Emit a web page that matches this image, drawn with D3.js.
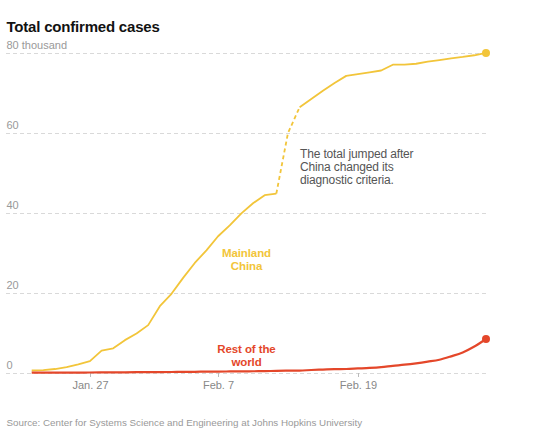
<!DOCTYPE html>
<html>
<head>
<meta charset="utf-8">
<script src="https://cdn.jsdelivr.net/npm/d3@7"></script>
<style>
  html, body { margin: 0; padding: 0; background: #fff; }
  svg { display: block; font-family: "Liberation Sans", Arial, sans-serif; }
</style>
</head>
<body>
<svg id="chart" width="545" height="441"></svg>
<script>
// ---- data ----
const dates = [
  "2020-01-22","2020-01-23","2020-01-24","2020-01-25","2020-01-26","2020-01-27","2020-01-28","2020-01-29","2020-01-30","2020-01-31",
  "2020-02-01","2020-02-02","2020-02-03","2020-02-04","2020-02-05","2020-02-06","2020-02-07","2020-02-08","2020-02-09","2020-02-10",
  "2020-02-11","2020-02-12","2020-02-13","2020-02-14","2020-02-15","2020-02-16","2020-02-17","2020-02-18","2020-02-19","2020-02-20",
  "2020-02-21","2020-02-22","2020-02-23","2020-02-24","2020-02-25","2020-02-26","2020-02-27","2020-02-28","2020-02-29","2020-03-01"
];
// thousands of cases
const chinaValues = [
  0.55, 0.64, 0.92, 1.41, 2.08, 2.88, 5.51, 6.09, 8.14, 9.80,
  11.89, 16.63, 19.72, 23.71, 27.44, 30.59, 34.11, 36.81, 39.83, 42.35,
  44.39, 44.76, 59.90, 66.36, 68.41, 70.51, 72.43, 74.21, 74.62, 75.08,
  75.55, 77.00, 77.02, 77.24, 77.75, 78.17, 78.60, 78.93, 79.36, 79.93
];
const restValues = [
  0.01, 0.01, 0.02, 0.03, 0.04, 0.05, 0.07, 0.08, 0.10, 0.12,
  0.14, 0.15, 0.17, 0.20, 0.23, 0.26, 0.29, 0.31, 0.33, 0.36,
  0.39, 0.46, 0.50, 0.53, 0.68, 0.79, 0.90, 0.93, 1.06, 1.19,
  1.39, 1.72, 2.00, 2.35, 2.77, 3.25, 4.09, 5.07, 6.54, 8.43
];
// dashed (criteria change) segment
const dashedFrom = "2020-02-12", dashedTo = "2020-02-14";
const yTicks = [0, 20, 40, 60, 80];
const yTickLabels = ["0", "20", "40", "60", "80 thousand"];
const xTicks = ["2020-01-27", "2020-02-07", "2020-02-19"];
const xTickLabels = ["Jan. 27", "Feb. 7", "Feb. 19"];

const titleText = "Total confirmed cases";
const sourceText = "Source: Center for Systems Science and Engineering at Johns Hopkins University";
const annotationLines = ["The total jumped after", "China changed its", "diagnostic criteria."];
const chinaLabel = ["Mainland", "China"];
const restLabel = ["Rest of the", "world"];

const yellow = "#f2c53a";
const red = "#e4472a";

// ---- chart ----
const parse = d3.timeParse("%Y-%m-%d");
const svg = d3.select("#chart");

const x = d3.scaleTime()
  .domain([parse(dates[0]), parse(dates[dates.length - 1])])
  .range([31.7, 486]);
const y = d3.scaleLinear().domain([0, 80]).range([372.7, 52.7]);

const gridLeft = 6, gridRight = 486;

// title
svg.append("text")
  .attr("x", 6.5).attr("y", 31.5)
  .attr("font-size", 15).attr("font-weight", "bold")
  .attr("letter-spacing", "-0.2px")
  .attr("fill", "#121212")
  .text(titleText);

// grid
const grid = svg.append("g");
grid.selectAll("line").data(yTicks).join("line")
  .attr("x1", gridLeft).attr("x2", gridRight)
  .attr("y1", d => Math.round(y(d)) + 0.5).attr("y2", d => Math.round(y(d)) + 0.5)
  .attr("stroke", "#d9d9d9").attr("stroke-width", 1)
  .attr("stroke-dasharray", "4,3");
grid.selectAll("text").data(yTicks).join("text")
  .attr("x", 6.5).attr("y", d => y(d) - 4)
  .attr("font-size", 11).attr("fill", "#999")
  .text((d, i) => yTickLabels[i]);

// x axis ticks
const xg = svg.append("g");
xTicks.forEach((t, i) => {
  const px = Math.round(x(parse(t))) + 0.5;
  xg.append("line").attr("x1", px).attr("x2", px)
    .attr("y1", 373).attr("y2", 377).attr("stroke", "#bbb");
  xg.append("text").attr("x", px).attr("y", 389)
    .attr("text-anchor", "middle").attr("font-size", 11).attr("fill", "#888")
    .text(xTickLabels[i]);
});

// china line
const china = dates.map((d, i) => ({ date: parse(d), v: chinaValues[i], i }));
const iFrom = dates.indexOf(dashedFrom), iTo = dates.indexOf(dashedTo);
const line = d3.line().x(d => x(d.date)).y(d => y(d.v));

svg.append("path").datum(china.filter(d => d.i <= iFrom))
  .attr("d", line).attr("fill", "none").attr("stroke", yellow)
  .attr("stroke-width", 1.8).attr("stroke-linejoin", "round");
svg.append("path").datum(china.filter(d => d.i >= iFrom && d.i <= iTo))
  .attr("d", line).attr("fill", "none").attr("stroke", yellow)
  .attr("stroke-width", 1.8).attr("stroke-dasharray", "4,3");
svg.append("path").datum(china.filter(d => d.i >= iTo))
  .attr("d", line).attr("fill", "none").attr("stroke", yellow)
  .attr("stroke-width", 1.8).attr("stroke-linejoin", "round");
const lastC = china[china.length - 1];
svg.append("circle").attr("cx", x(lastC.date)).attr("cy", y(lastC.v))
  .attr("r", 4).attr("fill", yellow);

// rest of world line
const rest = dates.map((d, i) => ({ date: parse(d), v: restValues[i] }));
svg.append("path").datum(rest)
  .attr("d", d3.line().x(d => x(d.date)).y(d => y(d.v)).curve(d3.curveMonotoneX))
  .attr("fill", "none").attr("stroke", red).attr("stroke-width", 2.2);
const lastR = rest[rest.length - 1];
svg.append("circle").attr("cx", x(lastR.date)).attr("cy", y(lastR.v))
  .attr("r", 4).attr("fill", red);

// series labels
const lab = (lines, cx, y0, color) => {
  lines.forEach((s, i) => svg.append("text").attr("text-anchor", "middle")
    .attr("x", cx).attr("y", y0 + i * 12.5)
    .attr("font-size", 11.5).attr("font-weight", "bold")
    .attr("letter-spacing", "-0.1px").attr("fill", color).text(s));
};
lab(chinaLabel, 246.5, 257, yellow);
lab(restLabel, 246.5, 353, red);

// annotation
annotationLines.forEach((s, i) =>
  svg.append("text").attr("x", 300).attr("y", 158.3 + i * 13)
    .attr("font-size", 12).attr("fill", "#555")
    .attr("letter-spacing", "-0.15px").text(s));

// source
svg.append("text").attr("x", 6.5).attr("y", 426)
  .attr("font-size", 9.8).attr("fill", "#999")
  .text(sourceText);
</script>
</body>
</html>
